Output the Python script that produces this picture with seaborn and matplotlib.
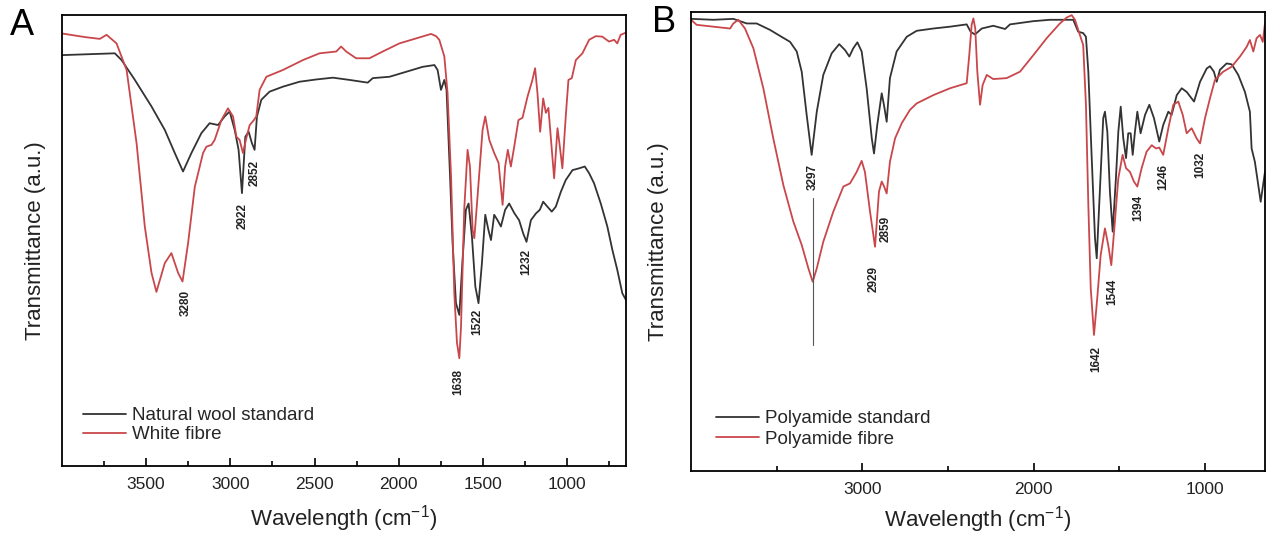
import numpy as np
import pandas as pd

import matplotlib
matplotlib.use("Agg")
import matplotlib.pyplot as plt
from matplotlib.ticker import FixedLocator
import seaborn as sns

# ---- panel A : natural wool vs white fibre ----
wool_wn = [4000, 3686, 3646, 3567, 3468, 3389, 3330, 3281, 3231, 3172, 3123, 3073, 3034, 3004, 2974,
           2951, 2931, 2911, 2891, 2872, 2856, 2842, 2816, 2767, 2688, 2589, 2490, 2391, 2292, 2184,
           2154, 2055, 1956, 1858, 1788, 1769, 1749, 1729, 1716, 1695, 1680, 1660, 1640, 1621, 1601,
           1585, 1565, 1545, 1526, 1506, 1486, 1467, 1452, 1433, 1413, 1393, 1368, 1344, 1314, 1285,
           1261, 1241, 1215, 1185, 1162, 1142, 1117, 1091, 1067, 1037, 1008, 968, 929, 895, 869,
           840, 800, 761, 731, 702, 672, 650]
wool_t = [91.1, 91.5, 90.0, 85.6, 79.7, 74.5, 69.4, 65.3, 69.4, 73.8, 76.0, 75.6, 77.5, 78.6, 74.5,
          70.1, 60.5, 73.0, 74.1, 71.6, 70.1, 77.5, 81.2, 83.0, 84.1, 85.2, 85.7, 86.1, 85.6, 85.0,
          86.0, 86.3, 87.4, 88.5, 88.9, 87.8, 83.4, 85.6, 83.4, 64.1, 49.4, 36.1, 33.5, 45.7, 56.8,
          58.2, 50.8, 39.8, 36.1, 44.9, 55.7, 52.3, 50.1, 55.7, 54.5, 53.1, 56.8, 58.2, 56.1, 54.5,
          51.6, 49.7, 54.5, 56.0, 56.8, 58.6, 57.5, 56.4, 57.5, 60.8, 63.4, 65.6, 66.0, 66.4, 64.9,
          62.7, 58.2, 53.1, 47.9, 43.5, 38.3, 36.8]

white_wn = [4000, 3864, 3775, 3735, 3676, 3616, 3557, 3508, 3468, 3439, 3389, 3350, 3310, 3284, 3251,
            3211, 3162, 3142, 3112, 3093, 3053, 3014, 2984, 2964, 2945, 2925, 2905, 2885, 2860, 2846,
            2826, 2786, 2688, 2569, 2470, 2371, 2342, 2312, 2253, 2174, 2095, 1996, 1897, 1808, 1778,
            1759, 1729, 1710, 1689, 1670, 1654, 1640, 1630, 1611, 1591, 1577, 1561, 1551, 1532, 1502,
            1486, 1462, 1433, 1407, 1383, 1368, 1352, 1334, 1314, 1289, 1265, 1235, 1206, 1190, 1176,
            1160, 1142, 1126, 1111, 1097, 1077, 1057, 1043, 1028, 1008, 992, 972, 948, 909, 869,
            830, 791, 751, 721, 702, 682, 650]
white_t = [95.9, 95.1, 94.7, 95.6, 93.7, 87.8, 71.6, 53.1, 42.8, 38.6, 45.0, 47.2, 42.8, 40.9, 49.4,
           61.9, 69.4, 70.8, 71.2, 72.3, 76.7, 79.3, 77.5, 73.0, 72.3, 69.4, 72.7, 75.6, 76.7, 77.5,
           83.4, 86.3, 87.8, 90.0, 91.5, 91.9, 93.0, 91.9, 90.4, 90.4, 91.9, 93.7, 94.8, 95.8, 95.3,
           94.5, 90.8, 82.7, 64.1, 38.4, 27.3, 23.9, 30.9, 56.8, 70.1, 66.4, 52.3, 50.5, 59.7, 74.5,
           77.5, 72.3, 69.4, 67.2, 57.9, 66.4, 70.1, 66.4, 70.8, 76.7, 77.2, 81.9, 85.6, 88.2, 82.7,
           74.1, 81.5, 78.3, 79.4, 73.0, 63.8, 74.9, 70.8, 66.0, 77.5, 85.6, 86.0, 90.0, 91.5, 94.5,
           95.3, 95.2, 94.1, 94.5, 93.7, 95.6, 96.1]

a_labels = ["3280", "2922", "2852", "1638", "1522", "1232"]
a_label_wn = [3265, 2925, 2856, 1646, 1532, 1241]
a_label_t = [36.1, 55.4, 65.0, 18.6, 32.0, 45.2]
a_major = [3500, 3000, 2500, 2000, 1500, 1000]
a_minor = [3750, 3250, 2750, 2250, 1750, 1250, 750]

# ---- panel B : polyamide ----
pa_std_wn = [4000, 3870, 3753, 3675, 3617, 3539, 3481, 3422, 3383, 3354, 3325, 3296, 3266, 3228, 3179,
             3135, 3101, 3076, 3053, 3029, 3004, 2975, 2945, 2932, 2913, 2887, 2874, 2858, 2839, 2800,
             2741, 2683, 2586, 2488, 2391, 2368, 2343, 2303, 2236, 2167, 2138, 2002, 1905, 1769, 1740,
             1711, 1695, 1681, 1662, 1642, 1632, 1613, 1594, 1584, 1570, 1555, 1539, 1520, 1506, 1492,
             1477, 1461, 1448, 1434, 1422, 1409, 1395, 1376, 1350, 1325, 1298, 1267, 1244, 1214, 1195,
             1165, 1136, 1107, 1064, 1029, 990, 971, 948, 932, 913, 874, 844, 806, 767, 738,
             728, 709, 675, 650]
pa_std_t = [98.4, 98.2, 98.4, 97.4, 97.4, 96.0, 94.7, 93.4, 91.3, 86.9, 77.5, 68.8, 78.2, 86.2, 90.9,
            92.9, 91.6, 90.2, 92.0, 93.3, 91.3, 83.3, 72.4, 69.1, 75.3, 82.2, 79.7, 76.0, 85.5, 91.3,
            94.5, 95.8, 96.3, 96.7, 97.2, 95.6, 95.0, 96.3, 96.9, 96.2, 97.2, 97.9, 98.2, 98.2, 95.6,
            95.3, 94.5, 86.9, 68.8, 50.6, 46.3, 61.5, 76.8, 78.2, 73.8, 60.8, 52.1, 63.7, 73.8, 79.3,
            72.4, 68.1, 73.5, 73.5, 68.8, 73.8, 78.2, 73.5, 77.5, 79.7, 76.8, 71.7, 75.3, 78.2, 77.5,
            81.8, 83.3, 82.5, 80.4, 84.7, 87.6, 88.1, 86.9, 84.7, 87.3, 88.7, 88.5, 86.2, 82.5, 78.2,
            70.2, 67.3, 58.6, 65.1]

pa_fib_wn = [4000, 3967, 3870, 3772, 3753, 3724, 3685, 3636, 3578, 3520, 3461, 3403, 3354, 3315, 3290,
             3266, 3228, 3170, 3111, 3072, 3033, 3004, 2985, 2955, 2926, 2903, 2887, 2874, 2858, 2839,
             2809, 2770, 2722, 2683, 2586, 2488, 2391, 2376, 2362, 2352, 2341, 2329, 2313, 2298, 2274,
             2236, 2158, 2080, 2002, 1924, 1847, 1807, 1778, 1759, 1740, 1711, 1695, 1681, 1667, 1648,
             1629, 1609, 1584, 1565, 1547, 1526, 1506, 1481, 1461, 1438, 1415, 1395, 1370, 1341, 1311,
             1286, 1267, 1244, 1214, 1185, 1156, 1130, 1107, 1078, 1049, 1029, 1000, 971, 942, 894,
             844, 796, 757, 738, 718, 699, 679, 663, 650]
pa_fib_t = [98.2, 97.1, 96.7, 96.3, 97.4, 98.2, 96.3, 92.0, 83.3, 72.4, 62.2, 54.3, 49.2, 44.1, 41.2,
            44.1, 49.9, 56.4, 61.9, 62.6, 65.1, 67.5, 65.1, 56.4, 48.8, 60.8, 63.0, 62.0, 60.4, 67.3,
            72.4, 75.7, 78.6, 80.0, 81.8, 83.3, 84.4, 90.5, 97.1, 98.5, 96.3, 86.9, 79.7, 84.0, 86.2,
            85.3, 85.5, 86.9, 90.5, 94.2, 97.4, 98.7, 99.2, 98.2, 96.0, 92.7, 79.7, 57.9, 39.8, 29.6,
            37.6, 47.0, 52.8, 49.2, 44.8, 54.3, 63.7, 68.8, 65.9, 65.1, 63.0, 61.9, 65.9, 69.5, 70.9,
            70.2, 70.4, 68.8, 74.6, 79.7, 80.4, 77.5, 73.5, 74.6, 72.4, 71.3, 76.8, 81.1, 85.1, 86.9,
            88.0, 90.2, 92.3, 93.8, 91.3, 94.2, 94.9, 93.4, 97.4]

b_labels = ["3297", "2929", "2859", "1642", "1544", "1394", "1246", "1032"]
b_label_wn = [3290, 2936, 2862, 1635, 1539, 1389, 1244, 1029]
b_label_t = [64.0, 41.7, 52.7, 24.4, 39.0, 57.2, 64.0, 66.6]
b_marker_wn = 3290
b_marker_t = [27.4, 59.4]
b_major = [3000, 2000, 1000]
b_minor = [3500, 2500, 1500]

BLACK = "#333333"
RED = "#c9474b"


def style_axis(ax, major, minor, xlabel_y):
    ax.set_xlim(4000, 650)
    ax.set_ylim(0, 100)
    ax.set_yticks([])
    ax.xaxis.set_major_locator(FixedLocator(major))
    ax.xaxis.set_minor_locator(FixedLocator(minor))
    ax.tick_params(axis="x", which="major", direction="in", length=6, width=1.2,
                   labelsize=12.5, pad=8, color="black", labelcolor="#222222")
    ax.tick_params(axis="x", which="minor", direction="in", length=3.6, width=1.2,
                   color="black")
    for sp in ax.spines.values():
        sp.set_visible(True)
        sp.set_linewidth(1.3)
        sp.set_color("black")
    ax.set_xlabel("Wavelength (cm$^{-1}$)", fontsize=16, color="#222222")
    ax.set_ylabel("Transmittance (a.u.)", fontsize=16, color="#222222")
    ax.xaxis.set_label_coords(0.5, xlabel_y)


def draw_curve(ax, wn, t, color, label):
    df = pd.DataFrame({"wn": wn, "t": t})
    sns.lineplot(data=df, x="wn", y="t", ax=ax, color=color, lw=1.3,
                 estimator=None, sort=False, label=label)


def peak_labels(ax, labels, wns, ts):
    for lab, w, t in zip(labels, wns, ts):
        ax.text(w, t, lab, rotation=90, ha="center", va="center",
                fontsize=8.5, fontweight="bold", color="#222222")


def main():
    sns.set_style("ticks")
    plt.rcParams["font.family"] = ["Liberation Sans", "DejaVu Sans"]
    plt.rcParams["mathtext.fontset"] = "custom"
    plt.rcParams["mathtext.rm"] = "Liberation Sans"
    plt.rcParams["mathtext.it"] = "Liberation Sans"

    fig = plt.figure(figsize=(12.67, 5.33), dpi=100)
    ax_a = fig.add_axes([0.0489, 0.1257, 0.4452, 0.8462])
    ax_b = fig.add_axes([0.5454, 0.1163, 0.4530, 0.8621])

    draw_curve(ax_a, wool_wn, wool_t, BLACK, "Natural wool standard")
    draw_curve(ax_a, white_wn, white_t, RED, "White fibre")
    peak_labels(ax_a, a_labels, a_label_wn, a_label_t)
    style_axis(ax_a, a_major, a_minor, -0.083)
    ax_a.yaxis.set_label_coords(-0.028, 0.5)
    ax_a.legend(loc="lower left", bbox_to_anchor=(0.037, 0.05), frameon=False,
                fontsize=13.5, handlelength=2.3, handletextpad=0.3, labelspacing=0.1,
                borderpad=0, borderaxespad=0)

    draw_curve(ax_b, pa_std_wn, pa_std_t, BLACK, "Polyamide standard")
    draw_curve(ax_b, pa_fib_wn, pa_fib_t, RED, "Polyamide fibre")
    ax_b.plot([b_marker_wn, b_marker_wn], b_marker_t, color="#555555", lw=0.8)
    peak_labels(ax_b, b_labels, b_label_wn, b_label_t)
    style_axis(ax_b, b_major, b_minor, -0.072)
    ax_b.yaxis.set_label_coords(-0.038, 0.5)
    ax_b.legend(loc="lower left", bbox_to_anchor=(0.0436, 0.05), frameon=False,
                fontsize=13.5, handlelength=2.3, handletextpad=0.3, labelspacing=0.2,
                borderpad=0, borderaxespad=0)

    fig.text(0.0174, 0.953, "A", fontsize=26, ha="center", va="center", color="black")
    fig.text(0.524, 0.957, "B", fontsize=26, ha="center", va="center", color="black")

    fig.savefig("out.png", dpi=100)


if __name__ == "__main__":
    main()
